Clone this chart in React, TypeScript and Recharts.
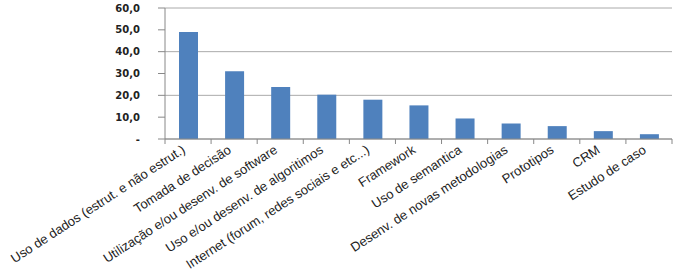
import { useEffect } from 'react';
import { BarChart, Bar, XAxis, YAxis, CartesianGrid } from 'recharts';

const categories = [
  'Uso de dados (estrut. e não estrut.)',
  'Tomada de decisão',
  'Utilização e/ou desenv. de software',
  'Uso e/ou desenv. de algoritimos',
  'Internet (forum, redes sociais e etc...)',
  'Framework',
  'Uso de semantica',
  'Desenv. de novas metodologias',
  'Prototipos',
  'CRM',
  'Estudo de caso',
];
const values = [49.0, 31.0, 23.8, 20.3, 18.0, 15.4, 9.4, 7.1, 5.9, 3.6, 2.2];
const yTicks = [0, 10, 20, 30, 40, 50, 60];

const W = 675;
const H = 275;
const LEFT = 165;
const RIGHT = 3;
const BAND = (W - LEFT - RIGHT) / categories.length;

const data = categories.map((name, i) => ({ name, value: values[i] }));

function fmtY(v: number) {
  if (v === 0) return '-';
  return v.toFixed(1).replace('.', ',');
}

function XTick(props: any) {
  const { x, y, payload, index } = props;
  return (
    <g>
      <line x1={x - BAND / 2} x2={x - BAND / 2} y1={y - 5} y2={y} stroke="#888" />
      {index === categories.length - 1 && (
        <line x1={x + BAND / 2} x2={x + BAND / 2} y1={y - 5} y2={y} stroke="#888" />
      )}
      <text
        x={x - 2}
        y={y + 8}
        transform={`rotate(-33, ${x - 2}, ${y + 8})`}
        textAnchor="end"
        fontSize={13}
        fontFamily="'Liberation Sans', Arial, sans-serif"
        fill="#222"
      >
        {payload.value}
      </text>
    </g>
  );
}

export default function App() {
  useEffect(() => {
    document.body.style.margin = '0';
  }, []);

  return (
    <div style={{ width: W, height: H, background: '#fff' }}>
      <BarChart width={W} height={H} data={data} margin={{ top: 8, right: RIGHT, bottom: 0, left: 0 }}>
        <CartesianGrid vertical={false} stroke="#aaaaaa" />
        <XAxis
          dataKey="name"
          interval={0}
          height={136}
          tickSize={5}
          tickMargin={0}
          tickLine={false}
          axisLine={{ stroke: '#888' }}
          tick={<XTick />}
        />
        <YAxis
          width={LEFT}
          domain={[0, 60]}
          ticks={yTicks}
          tickFormatter={fmtY}
          tickSize={7}
          tickMargin={18}
          axisLine={{ stroke: '#888' }}
          tickLine={{ stroke: '#888' }}
          tick={{ fontSize: 10, fontWeight: 'bold', fill: '#222', fontFamily: "'DejaVu Sans', Verdana, sans-serif" }}
        />
        <Bar dataKey="value" fill="#4f81bd" barSize={19} isAnimationActive={false} />
      </BarChart>
    </div>
  );
}
